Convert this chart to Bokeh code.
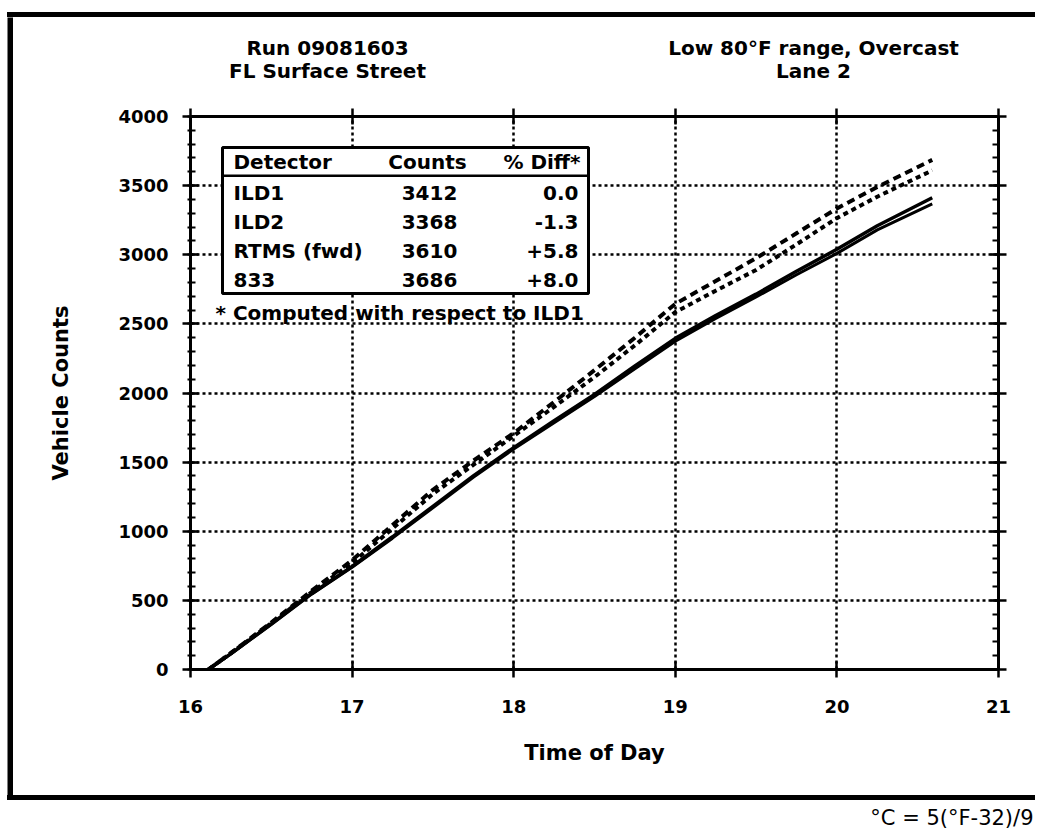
from bokeh.plotting import figure
from bokeh.models import (Range1d, LinearAxis, SingleIntervalTicker, FixedTicker,
                          Label, BoxAnnotation, Spacer, Div)
from bokeh.layouts import column, row
from bokeh.embed import file_html
from bokeh.resources import INLINE

# ---------------- data ----------------
time_of_day = [16.11, 16.25, 16.5, 16.75, 17.0, 17.25, 17.5, 17.75, 18.0, 18.25,
               18.5, 18.75, 19.0, 19.25, 19.5, 19.75, 20.0, 20.25, 20.59]
ild1 = [0, 115, 330, 550, 745, 960, 1180, 1400, 1605, 1800,
        1990, 2195, 2395, 2560, 2715, 2880, 3040, 3210, 3412]
ild2 = [0, 112, 325, 545, 740, 950, 1170, 1390, 1595, 1785,
        1975, 2175, 2375, 2540, 2695, 2855, 3010, 3180, 3368]
rtms = [0, 118, 335, 560, 770, 1020, 1270, 1480, 1690, 1900,
        2115, 2345, 2585, 2740, 2890, 3075, 3265, 3420, 3610]
d833 = [0, 120, 340, 570, 790, 1045, 1300, 1510, 1710, 1935,
        2165, 2400, 2645, 2810, 2975, 3155, 3335, 3490, 3686]

detectors = ["ILD1", "ILD2", "RTMS (fwd)", "833"]
counts = ["3412", "3368", "3610", "3686"]
pct_diff = ["0.0", "-1.3", "+5.8", "+8.0"]
table_header = ["Detector", "Counts", "% Diff*"]
footnote = "* Computed with respect to ILD1"

x_ticks = [16, 17, 18, 19, 20, 21]
y_tick_step = 500
titles_left = ["Run 09081603", "FL Surface Street"]
titles_right = ["Low 80\u00b0F range, Overcast", "Lane 2"]
formula = "\u00b0C = 5(\u00b0F-32)/9"

# ---------------- page geometry (page pixels) ----------------
PAGE_W = 1035
X0, X1, Y0, Y1 = 16, 21, 0, 4000
FL, FR, FT, FB = 190, 998, 116, 669     # plot frame edges
BX, BW = 7, 6                           # left border x, width
BT, BTH = 12, 5                         # top border y, thickness
BB, BBH = 795, 5                        # bottom border y, thickness
CX = BX + BW                            # content left
HEAD_H = 70
MAIN_TOP = BT + BTH + HEAD_H
FOOT_H = 36

def xd(px):
    return X0 + (px - FL) * (X1 - X0) / (FR - FL)

def yd(py):
    return Y0 + (FB - py) * (Y1 - Y0) / (FB - FT)

def black_div(w, h):
    return Div(text="", width=w, height=h, margin=0,
               styles={"background-color": "black"})

def bar(w, h):
    b = figure(width=w, height=h, min_border=0, x_axis_type=None, y_axis_type=None,
               toolbar_location=None, output_backend="svg", title=None,
               background_fill_color="black", border_fill_color="black")
    b.outline_line_color = None
    b.grid.visible = False
    return b

def blank(w, h, xr, yr):
    f = figure(width=w, height=h, min_border=0, x_axis_type=None, y_axis_type=None,
               toolbar_location=None, output_backend="svg", title=None,
               x_range=xr, y_range=yr,
               background_fill_color="white", border_fill_color="white")
    f.outline_line_color = None
    f.grid.visible = False
    return f

BOLD = "DejaVu Sans"

# ---------------- main plot ----------------
MAIN_W = PAGE_W - CX
MAIN_H = BB - MAIN_TOP
p = figure(width=MAIN_W, height=MAIN_H, title=None,
           x_range=Range1d(X0, X1), y_range=Range1d(Y0, Y1),
           output_backend="svg", toolbar_location=None,
           min_border_left=FL - CX, min_border_right=PAGE_W - FR,
           min_border_top=FT - MAIN_TOP, min_border_bottom=BB - FB)
p.outline_line_color = None
p.background_fill_color = "white"
p.border_fill_color = "white"

xt = FixedTicker(ticks=x_ticks)
yt = SingleIntervalTicker(interval=y_tick_step, num_minor_ticks=5)

def style_axis(ax, labels=True):
    ax.axis_line_width = 3
    ax.axis_line_color = "black"
    ax.major_tick_line_width = 2.5
    ax.major_tick_line_color = "black"
    ax.major_tick_in = 8
    ax.major_tick_out = 8
    ax.minor_tick_line_width = 2
    ax.minor_tick_line_color = "black"
    ax.major_label_text_font = BOLD
    ax.major_label_text_font_style = "bold"
    ax.major_label_text_font_size = "18px"
    ax.major_label_text_color = "black" if labels else None

xa = p.xaxis[0]
xa.ticker = xt
style_axis(xa)
xa.major_label_standoff = 22
xa.axis_label = "Time of Day"
xa.axis_label_text_font = BOLD
xa.axis_label_text_font_style = "bold"
xa.axis_label_text_font_size = "21px"
xa.axis_label_text_color = "black"
xa.axis_label_standoff = 25

ya = p.yaxis[0]
ya.ticker = yt
style_axis(ya)
ya.minor_tick_in = 5
ya.minor_tick_out = 3
ya.major_label_standoff = 14
ya.axis_label = "Vehicle Counts"
ya.axis_label_text_font = BOLD
ya.axis_label_text_font_style = "bold"
ya.axis_label_text_font_size = "21px"
ya.axis_label_text_color = "black"
ya.axis_label_standoff = 42

top_ax = LinearAxis(ticker=xt)
style_axis(top_ax, labels=False)
top_ax.major_label_standoff = 0
p.add_layout(top_ax, "above")

right_ax = LinearAxis(ticker=yt)
style_axis(right_ax, labels=False)
right_ax.minor_tick_in = 6
right_ax.minor_tick_out = 0
right_ax.major_label_standoff = 0
p.add_layout(right_ax, "right")

for g, t in ((p.xgrid[0], xt), (p.ygrid[0], yt)):
    g.ticker = t
    g.grid_line_color = "black"
    g.grid_line_width = 2.5
    g.grid_line_dash = "3 3"

# series
p.line(time_of_day, ild1, line_color="black", line_width=3.5)
p.line(time_of_day, ild2, line_color="black", line_width=3)
p.line(time_of_day, rtms, line_color="black", line_width=4, line_dash="5 4")
p.line(time_of_day, d833, line_color="black", line_width=4, line_dash="8 5")

# table
p.add_layout(BoxAnnotation(left=xd(222), right=xd(588), top=yd(147), bottom=yd(293),
                           fill_color="white", fill_alpha=1, line_color="black",
                           line_alpha=1, line_width=3))
p.add_layout(BoxAnnotation(left=xd(222), right=xd(588), top=yd(174), bottom=yd(176.5),
                           fill_color="black", fill_alpha=1, line_color=None))

def tlabel(txt, px, py, align):
    p.add_layout(Label(x=xd(px), y=yd(py), text=txt, text_align=align,
                       text_baseline="middle", text_font=BOLD,
                       text_font_style="bold", text_font_size="20px",
                       text_color="black"))

tlabel(table_header[0], 233, 161, "left")
tlabel(table_header[1], 427, 161, "center")
tlabel(table_header[2], 580, 161, "right")
for i, (d, c, pdf) in enumerate(zip(detectors, counts, pct_diff)):
    py = 192 + 29 * i
    tlabel(d, 233, py, "left")
    tlabel(c, 429, py, "center")
    tlabel(pdf, 578, py, "right")
tlabel(footnote, 215, 312, "left")

# ---------------- header with titles (frame is aligned with the main frame) ----------------
head = blank(MAIN_W, HEAD_H, p.x_range, Range1d(HEAD_H, 0))
head_top = BT + BTH
for i, (tl, tr) in enumerate(zip(titles_left, titles_right)):
    ypos = 47 + 23 * i - head_top
    for txt, xc in ((tl, 327), (tr, 813)):
        head.add_layout(Label(x=xd(xc), y=ypos, text=txt, text_align="center",
                              text_baseline="middle", text_font=BOLD,
                              text_font_style="bold", text_font_size="20px",
                              text_color="black"))

# ---------------- footer with note ----------------
foot_top = BB + BBH
foot = blank(PAGE_W, FOOT_H, Range1d(0, PAGE_W), Range1d(FOOT_H, 0))
foot.add_layout(Label(x=1033, y=817 - foot_top, text=formula, text_align="right",
                      text_baseline="middle", text_font="DejaVu Sans",
                      text_font_size="21px", text_color="black"))

layout = column(
    Spacer(height=BT, width=PAGE_W),
    row(Spacer(width=BX, height=BTH), black_div(PAGE_W - BX, BTH)),
    row(Spacer(width=BX, height=BB - head_top), bar(BW, BB - head_top), column(head, p)),
    row(Spacer(width=BX, height=BBH), black_div(PAGE_W - BX, BBH)),
    foot,
)

open("out.html", "w").write(file_html(layout, INLINE))
